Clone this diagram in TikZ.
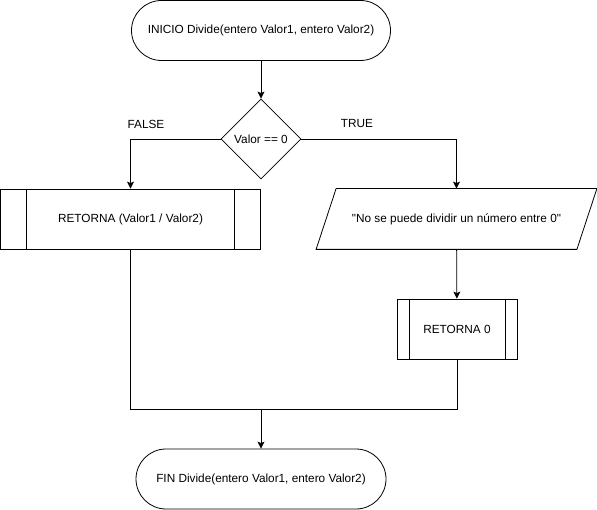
\documentclass[tikz,border=0pt]{standalone}
\usepackage{fontspec}
\setmainfont{Liberation Sans}[Ligatures=TeXOff]
\usetikzlibrary{shapes,arrows,arrows.meta,positioning,calc}

\begin{document}
\begin{tikzpicture}[x=1pt,y=-1pt,line width=0.8pt,font=\fontsize{11.8}{14}\selectfont,
		terminal/.style={draw,rounded corners=30pt,minimum height=60pt,inner sep=0pt},
		decision/.style={draw,diamond,minimum width=80pt,minimum height=80pt,inner sep=0pt},
		subproc/.style={draw,minimum height=60pt,inner sep=0pt,
			path picture={
				\draw ($(path picture bounding box.north west)!0.1!(path picture bounding box.north east)$) -- ($(path picture bounding box.south west)!0.1!(path picture bounding box.south east)$);
				\draw ($(path picture bounding box.north west)!0.9!(path picture bounding box.north east)$) -- ($(path picture bounding box.south west)!0.9!(path picture bounding box.south east)$);}},
		iobox/.style={minimum width=280pt,minimum height=60pt,inner sep=0pt,
			append after command={\pgfextra{
				\draw ($(\tikzlastnode.north west)+(20,0)$) -- (\tikzlastnode.north east) -- ($(\tikzlastnode.south east)+(-20,0)$) -- (\tikzlastnode.south west) -- cycle;}}},
		flow/.style={-{Stealth[length=7pt,width=7pt,inset=1.5pt]}}]
	\useasboundingbox (0,0) rectangle (597,510);

	\node[terminal,minimum width=259pt] (inicio) at (261,30.5) {INICIO Divide(entero Valor1, entero Valor2)};
	\node[decision] (cond) at (261,139) {Valor == 0};
	\node (lfalse) at (146,124) {FALSE};
	\node (ltrue) at (357,124) {TRUE};
	\node[subproc,minimum width=260pt] (divide) at (130.5,219) {RETORNA (Valor1 / Valor2)};
	\node[iobox] (mensaje) at (456.5,219) {"No se puede dividir un número entre 0"};
	\node[subproc,minimum width=120pt] (cero) at (457,329) {RETORNA 0};
	\coordinate (union) at (261,409);
	\node[terminal,minimum width=250pt] (fin) at (261,479) {FIN Divide(entero Valor1, entero Valor2)};

	\draw[flow] (inicio) -- (cond);
	\draw[flow] (cond.west) -| (divide.north);
	\draw[flow] (cond.east) -| (mensaje.north);
	\draw[flow] (mensaje) -- (cero);
	\draw (divide.south) |- (union);
	\draw (cero.south) |- (union);
	\draw[flow] (union) -- (fin);
\end{tikzpicture}
\end{document}
